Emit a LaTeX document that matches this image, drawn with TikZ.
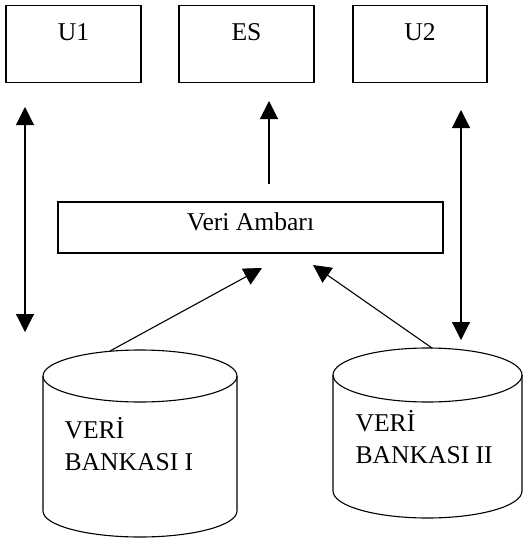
\documentclass[tikz,border=0pt]{standalone}
\usepackage{fontspec}
\setmainfont{Liberation Serif}
\usetikzlibrary{calc}
\usetikzlibrary{arrows.meta}

\begin{document}
\begin{tikzpicture}[x=1pt,y=-1pt,line width=1.1pt]
		\useasboundingbox (0,0) rectangle (525,539);
		\begin{scope}[every node/.style={draw=black,inner sep=0pt,font=\fontsize{25.6}{32}\selectfont}]
		\node[shape=rectangle,minimum width=135pt,text height=35pt,text depth=42pt] (U1) at (73.5,44) {U1};
		\node[shape=rectangle,minimum width=135pt,text height=35pt,text depth=42pt] (ES) at (246.5,44) {ES};
		\node[shape=rectangle,minimum width=134pt,text height=35pt,text depth=42pt] (U2) at (420,44) {U2};
		\node[shape=rectangle,minimum width=385pt,text height=28pt,text depth=23pt] (VA) at (250.5,227.5) {Veri Ambar\i};
		\node[draw=none,align=left,anchor=base west] (T1) at (64,470) {VER\.I\\BANKASI I};
		\node[draw=none,align=left,anchor=base west] (T2) at (355,463) {VER\.I\\BANKASI II};
		\end{scope}

		% veri bankalari
		\draw (140,376) ellipse[x radius=97,y radius=26];
		\draw (43,376) -- (43,511) arc[start angle=180,end angle=0,x radius=97,y radius=26] -- (237,376);
		\draw (427.5,375) ellipse[x radius=94.5,y radius=27];
		\draw (333,375) -- (333,491) arc[start angle=180,end angle=0,x radius=94.5,y radius=27] -- (522,375);

		\begin{scope}[>={Triangle[width=18pt,length=18pt]},
		every edge/.style={draw=black,line width=1.1pt}]
		\coordinate (U1A) at (25,107);
		\coordinate (U1B) at (25,332);
		\coordinate (ESA) at (269,101);
		\coordinate (ESB) at (269,184);
		\coordinate (U2A) at (461,110);
		\coordinate (U2B) at (461,340);
		\coordinate (VAL) at (262,268);
		\coordinate (VAR) at (313,265);
		\coordinate (DB1) at (110,351);
		\coordinate (DB2) at (432,348);

		\path [<->] (U1A) edge (U1B);
		\path [->] (ESB) edge (ESA);
		\path [<->] (U2A) edge (U2B);
		\path [->] (DB1) edge (VAL);
		\path [->] (DB2) edge (VAR);
		\end{scope}
\end{tikzpicture}
\end{document}
